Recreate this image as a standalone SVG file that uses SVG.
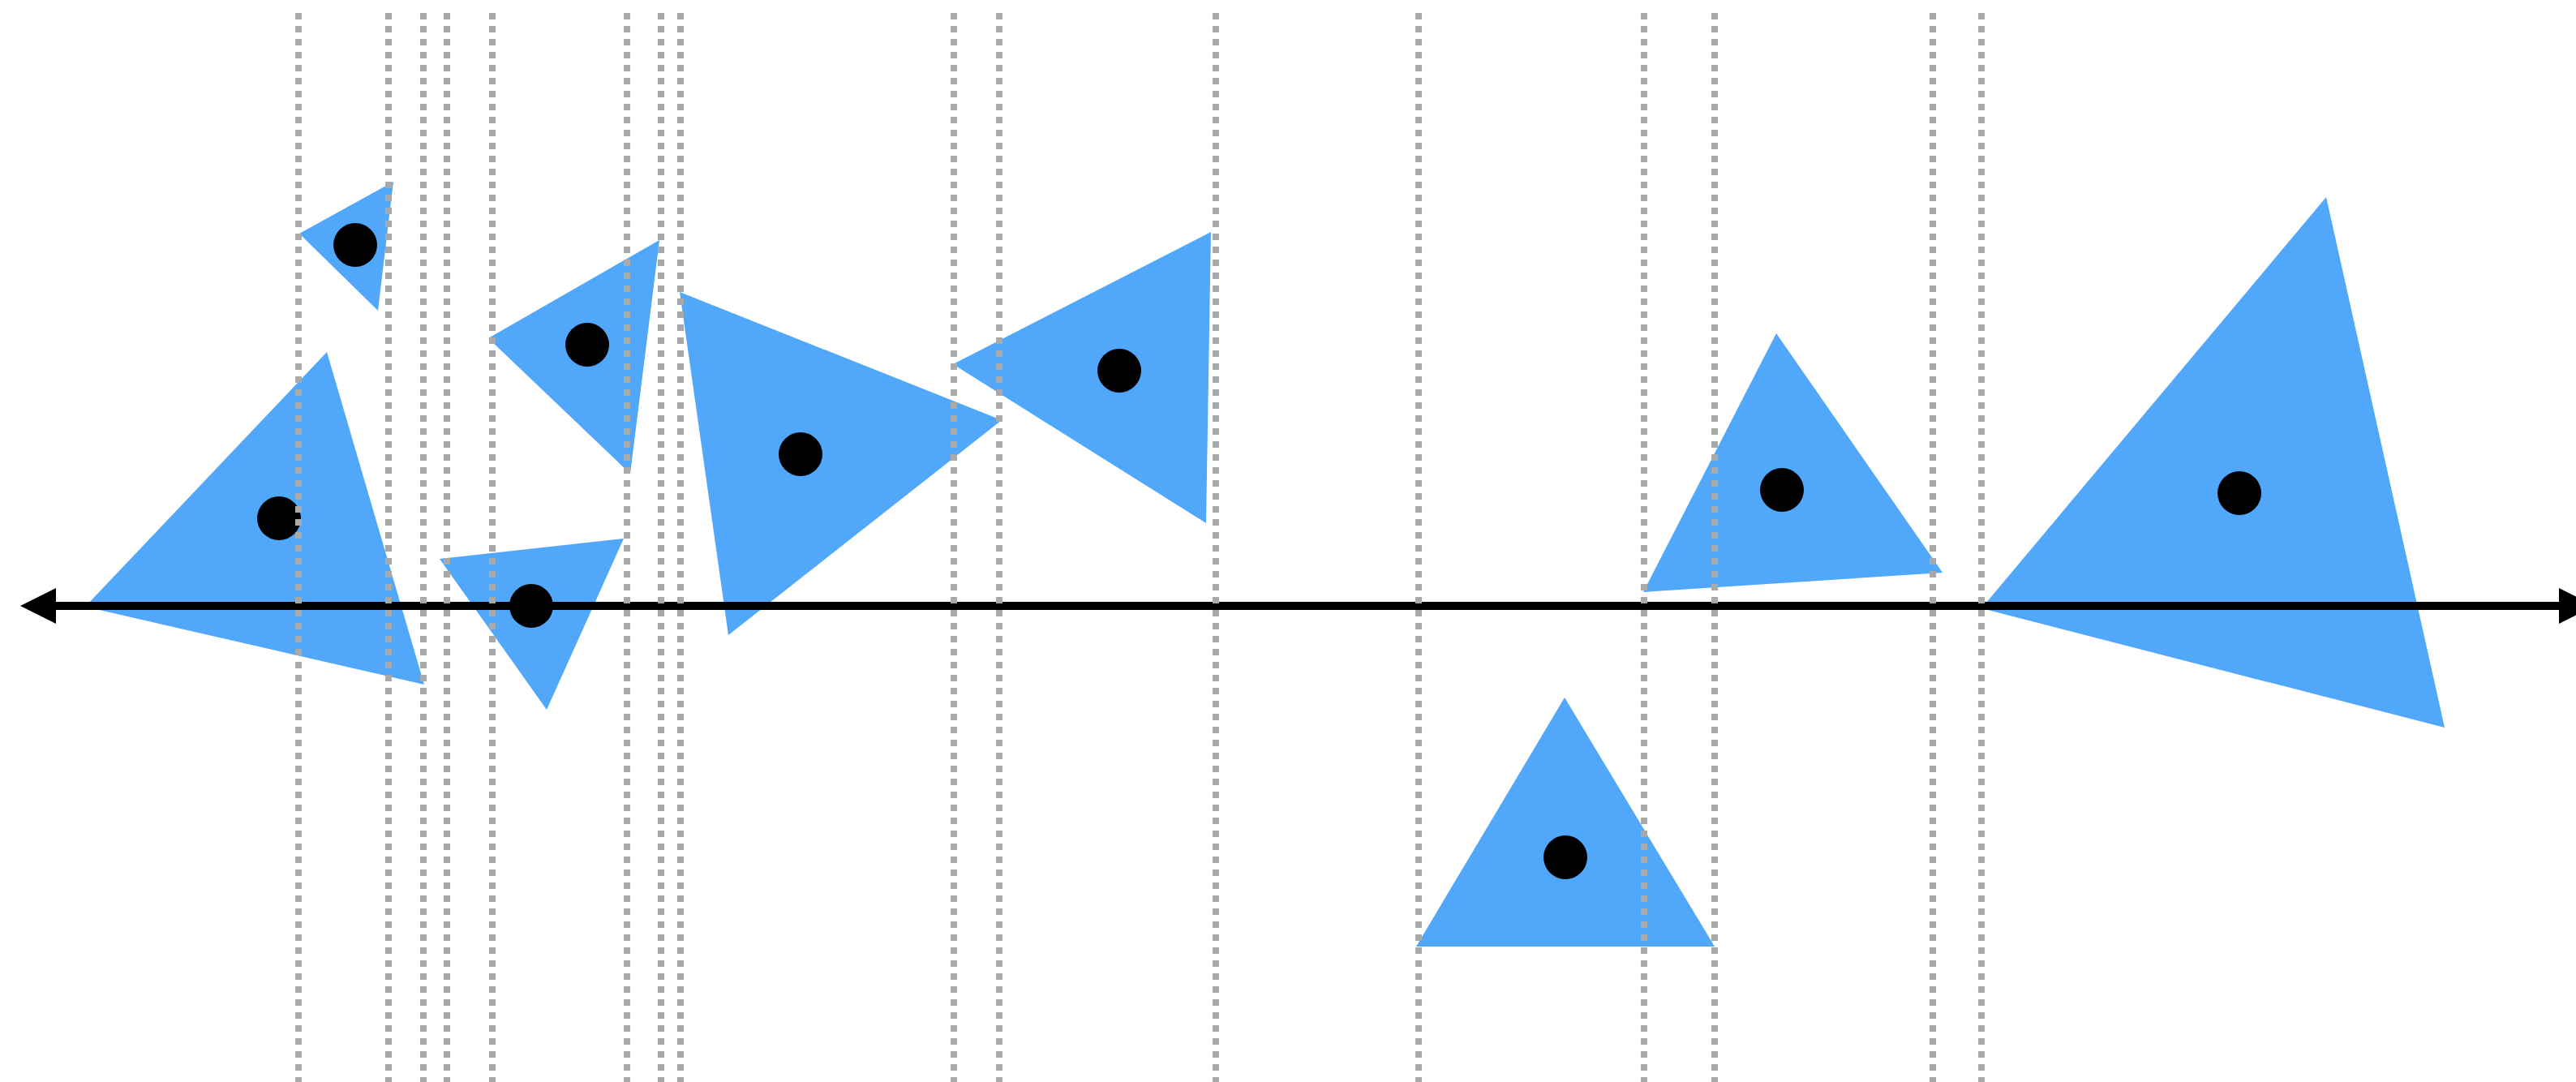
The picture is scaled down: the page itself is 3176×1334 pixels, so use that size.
<svg xmlns="http://www.w3.org/2000/svg" width="3176" height="1334" viewBox="0 0 3176 1334">
  <style>
    .tri { fill: #51a7f9; stroke: none; }
    .pt { fill: #000000; }
    .guide { stroke: #a8aaaa; stroke-width: 8; stroke-dasharray: 8 8; fill: none; }
    .axis { stroke: #000000; stroke-width: 10; fill: none; }
  </style>
  <defs>
    <marker id="head" viewBox="0 0 44 44" refX="0" refY="22" markerWidth="44" markerHeight="44" markerUnits="userSpaceOnUse" orient="auto-start-reverse">
      <path d="M0,0 L44,22 L0,44 Z" fill="#000000"/>
    </marker>
  </defs>
  <rect width="3176" height="1334" fill="#ffffff"/>

  <g id="nodes">
    <g id="tri-1">
      <polygon class="tri" points="369,288 485,224 466,383"/>
      <circle class="pt" cx="438" cy="302" r="27"/>
    </g>
    <g id="tri-2">
      <polygon class="tri" points="105,748 403,434 523,844"/>
      <circle class="pt" cx="344" cy="639" r="27"/>
    </g>
    <g id="tri-3">
      <polygon class="tri" points="602,417 813,296 777,584"/>
      <circle class="pt" cx="724" cy="425" r="27"/>
    </g>
    <g id="tri-4">
      <polygon class="tri" points="542,689 769,664 674,875"/>
      <circle class="pt" cx="655" cy="747" r="27"/>
    </g>
    <g id="tri-5">
      <polygon class="tri" points="838,360 1235,518 898,783"/>
      <circle class="pt" cx="987" cy="560" r="27"/>
    </g>
    <g id="tri-6">
      <polygon class="tri" points="1175,449 1493,286 1487,645"/>
      <circle class="pt" cx="1380" cy="457" r="27"/>
    </g>
    <g id="tri-7">
      <polygon class="tri" points="1746,1167 1929,860 2114,1167"/>
      <circle class="pt" cx="1930" cy="1057" r="27"/>
    </g>
    <g id="tri-8">
      <polygon class="tri" points="2026,730 2190,411 2395,706"/>
      <circle class="pt" cx="2197" cy="604" r="27"/>
    </g>
    <g id="tri-9">
      <polygon class="tri" points="2443,750 2868,243 3014,897"/>
      <circle class="pt" cx="2761" cy="608" r="27"/>
    </g>
  </g>

  <g id="connectors">
    <line class="axis" x1="69" y1="747" x2="3155" y2="747" marker-start="url(#head)" marker-end="url(#head)"/>
  </g>

  <g id="guides">
    <line class="guide" x1="368" y1="16" x2="368" y2="1334"/>
    <line class="guide" x1="479" y1="16" x2="479" y2="1334"/>
    <line class="guide" x1="522" y1="16" x2="522" y2="1334"/>
    <line class="guide" x1="551" y1="16" x2="551" y2="1334"/>
    <line class="guide" x1="607" y1="16" x2="607" y2="1334"/>
    <line class="guide" x1="773" y1="16" x2="773" y2="1334"/>
    <line class="guide" x1="815" y1="16" x2="815" y2="1334"/>
    <line class="guide" x1="839" y1="16" x2="839" y2="1334"/>
    <line class="guide" x1="1176" y1="16" x2="1176" y2="1334"/>
    <line class="guide" x1="1232" y1="16" x2="1232" y2="1334"/>
    <line class="guide" x1="1499" y1="16" x2="1499" y2="1334"/>
    <line class="guide" x1="1749" y1="16" x2="1749" y2="1334"/>
    <line class="guide" x1="2027" y1="16" x2="2027" y2="1334"/>
    <line class="guide" x1="2114" y1="16" x2="2114" y2="1334"/>
    <line class="guide" x1="2383" y1="16" x2="2383" y2="1334"/>
    <line class="guide" x1="2443" y1="16" x2="2443" y2="1334"/>
  </g>
</svg>
